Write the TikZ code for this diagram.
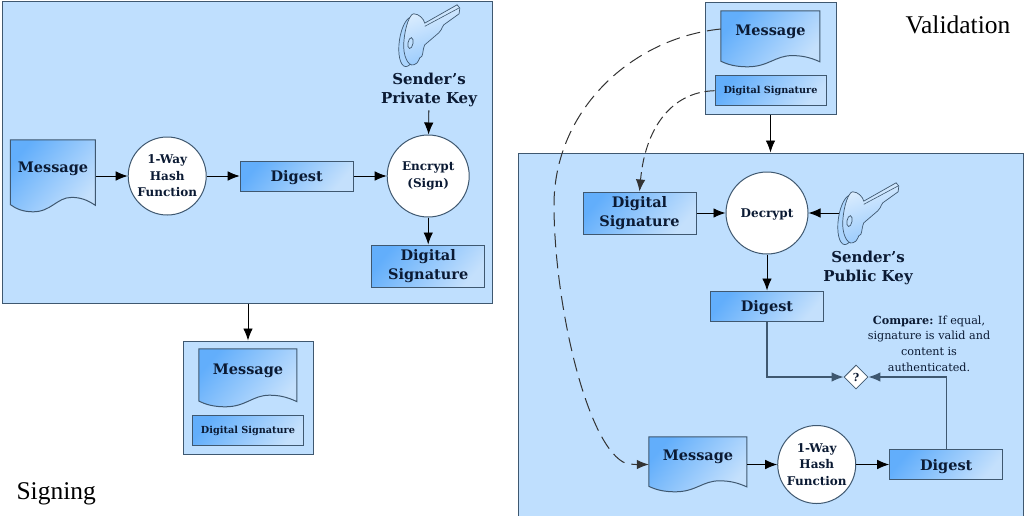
\documentclass[tikz,border=0pt]{standalone}
\usepackage{fontspec}
\setmainfont{DejaVu Serif}
\newfontfamily\titlefont{Liberation Serif}
\usetikzlibrary{positioning, arrows.meta, shapes.geometric}
\definecolor{panelblue}{HTML}{BFDFFE}
\definecolor{edgeblue}{HTML}{3F5870}
\definecolor{inkblue}{HTML}{0B1A33}
\definecolor{fillstart}{HTML}{62AEFB}
\definecolor{fillend}{HTML}{C4E0FC}
\tikzset{
>={Latex[length=12pt,width=9.5pt]}, % big solid heads everywhere
flow/.style={->, draw=black, line width=.9pt},
elbow/.style={->, draw=edgeblue, line width=1.2pt},
dashflow/.style={->, draw=black!80, line width=1pt, dash pattern=on 14pt off 7pt},
panel/.style={draw=edgeblue, line width=1pt, fill=panelblue},
bluefill/.style={draw=edgeblue, line width=1pt, top color=fillstart, bottom color=fillend, shading angle=50},
bigbox/.style={bluefill, minimum width=113pt, align=center, text=inkblue, font=\bfseries\fontsize{14.5}{19}\selectfont},
digestbox/.style={bigbox, minimum height=30pt, align=none, text depth=0pt},
smallbox/.style={bluefill, minimum width=111pt, minimum height=30pt, text=inkblue, font=\bfseries\fontsize{9.7}{12}\selectfont},
process/.style={circle, draw=edgeblue, line width=1pt, fill=white, align=center, text=inkblue, inner sep=0pt, font=\bfseries\fontsize{12}{16.5}\selectfont},
msgarea/.style={inner sep=0pt},
msgtext/.style={text=inkblue, font=\bfseries\fontsize{14.5}{19}\selectfont},
keytext/.style={align=center, text=inkblue, font=\bfseries\fontsize{15}{19}\selectfont},
heading/.style={font=\titlefont\fontsize{25.5}{30}\selectfont, text=black},
}

% name, x, y, width, height
\newcommand{\msgshape}[5]{
  \node[msgarea, minimum width=#4pt, minimum height=#5pt] (#1) at (#2,#3) {};
  \begin{scope}[shift={(#1.north west)}, x=#4pt, y=-#5pt]
    \draw[bluefill] (0,0) -- (1,0) -- (1,.91) .. controls (.9,.83) and (.82,.8) .. (.72,.8)
      .. controls (.55,.8) and (.48,1) .. (.27,1) .. controls (.15,1) and (.07,.96) .. (0,.9) -- cycle;
  \end{scope}
  \node[msgtext, yshift=7.5pt] (#1text) at (#1) {Message};
}
% name, x, y
\newcommand{\keyicon}[3]{
  \node[inner sep=0pt, minimum width=60pt, minimum height=60pt] (#1) at (#2,#3) {};
  \begin{scope}[shift={(#1.north west)}]
    \draw[edgeblue, line width=.7pt, fill=panelblue!80!fillstart] (9,37) ellipse [x radius=9.5, y radius=25, rotate=-8];
    \draw[edgeblue, line width=.7pt, top color=panelblue!50!white, bottom color=fillstart!70, shading angle=20]
      (25,18.3) -- (57.3,0) -- (60,3.3) -- (59.3,9) -- (44,20) .. controls (41,24) and (42,26) .. (39,28)
      -- (25,40) .. controls (22,47) and (24,52) .. (20,53) .. controls (18,58) and (16,60) .. (14,60)
      .. controls (8,62) and (3,50) .. (4,38) .. controls (5,22) and (10,9) .. (14,9)
      .. controls (19,9) and (24,14) .. (25,18.3) -- cycle;
    \draw[edgeblue, line width=.6pt] (25,21.5) -- (59,3.3);
    \draw[edgeblue, line width=.7pt, fill=panelblue] (10.7,38.3) ellipse [x radius=2.5, y radius=5.5, rotate=-10];
  \end{scope}
}

\begin{document}
\begin{tikzpicture}[x=1pt, y=-1pt]
  \clip[use as bounding box] (0,0) rectangle (1024,515);

  % signing side
  \node[panel, minimum width=490pt, minimum height=302pt] (signpanel) at (247,152) {};
  \msgshape{msga}{53}{176}{85}{72}
  \node[process, minimum size=78pt, right=32pt of msga] (hasha) {1-Way\\Hash\\Function};
  \node[digestbox, right=33pt of hasha] (digesta) {Digest};
  \node[process, minimum size=82pt, right=33pt of digesta] (encrypt) {Encrypt\\(Sign)};
  \node[bigbox, minimum height=42pt, below=27pt of encrypt] (siga) {Digital\\Signature};
  \keyicon{keya}{430}{35}
  \node[keytext] (privkey) at (429,90) {Sender’s\\Private Key};

  \draw[flow] (msga) edge (hasha)
        (hasha) edge (digesta)
        (digesta) edge (encrypt)
        (privkey) edge (encrypt)
        (encrypt) edge (siga);

  \node[panel, minimum width=130pt, minimum height=113pt] (signed) at (248,397.5) {};
  \msgshape{msgb}{248}{378}{98}{58}
  \node[smallbox, below=8pt of msgb] (sigb) {Digital Signature};
  \draw[flow] (signed.north |- signpanel.south) -- (signed.north);

  \node[heading, anchor=base west] (signing) at (13,499) {Signing};

  % validation side
  \node[panel, minimum width=505pt, minimum height=372pt] (checkpanel) at (770.5,339) {};
  \node[panel, minimum width=131pt, minimum height=112pt] (received) at (770.5,58) {};
  \msgshape{msgc}{770.5}{39}{99}{56}
  \node[smallbox, below=8pt of msgc] (sigc) {Digital Signature};
  \draw[flow] (received.south) -- (received.south |- checkpanel.north);
  \node[heading, anchor=base west] (validation) at (902,33) {Validation};

  \node[process, minimum size=82pt, text depth=0pt] (decrypt) at (767,213) {Decrypt};
  \node[bigbox, minimum height=42pt, left=29pt of decrypt] (sigd) {Digital\\Signature};
  \keyicon{keyb}{869}{213}
  \node[keytext] (pubkey) at (868,268) {Sender’s\\Public Key};
  \node[digestbox, below=36pt of decrypt] (digestb) {Digest};
  \msgshape{msgd}{698}{464.5}{98}{55}
  \node[process, minimum size=78pt, right=30pt of msgd] (hashb) {1-Way\\Hash\\Function};
  \node[digestbox, right=33pt of hashb] (digestc) {Digest};
  \node[diamond, draw=edgeblue, line width=.8pt, fill=white, inner sep=0pt, minimum size=24pt, text=inkblue, font=\bfseries\fontsize{11}{13}\selectfont] (cmp) at (856,377) {?};
  \node[align=center, text=inkblue, font=\fontsize{11.2}{15.7}\selectfont] (cmptext) at (929,343.5) {\textbf{Compare:} If equal,\\signature is valid and\\content is\\authenticated.};

  \draw[flow] (sigd) edge (decrypt)
        (keyb) edge (decrypt)
        (decrypt) edge (digestb)
        (msgd) edge (hashb)
        (hashb) edge (digestc);
  \draw[elbow] (digestb.south) |- (cmp.west);
  \draw[elbow] (digestc.north) |- (cmp.east);

  % dashed links out of the received box
  \draw[dashflow] ([yshift=10pt]msgc.west) .. controls (632,38) and (554,110) .. (554,205)
        .. controls (554,300) and (585,440) .. (623,462) .. controls (630,465) and (640,464.5) .. (msgd.west);
  \draw[dashflow, dash pattern=on 10pt off 5pt] (sigc.west) .. controls (670,92) and (645,130) .. (sigd.north);
\end{tikzpicture}
\end{document}
